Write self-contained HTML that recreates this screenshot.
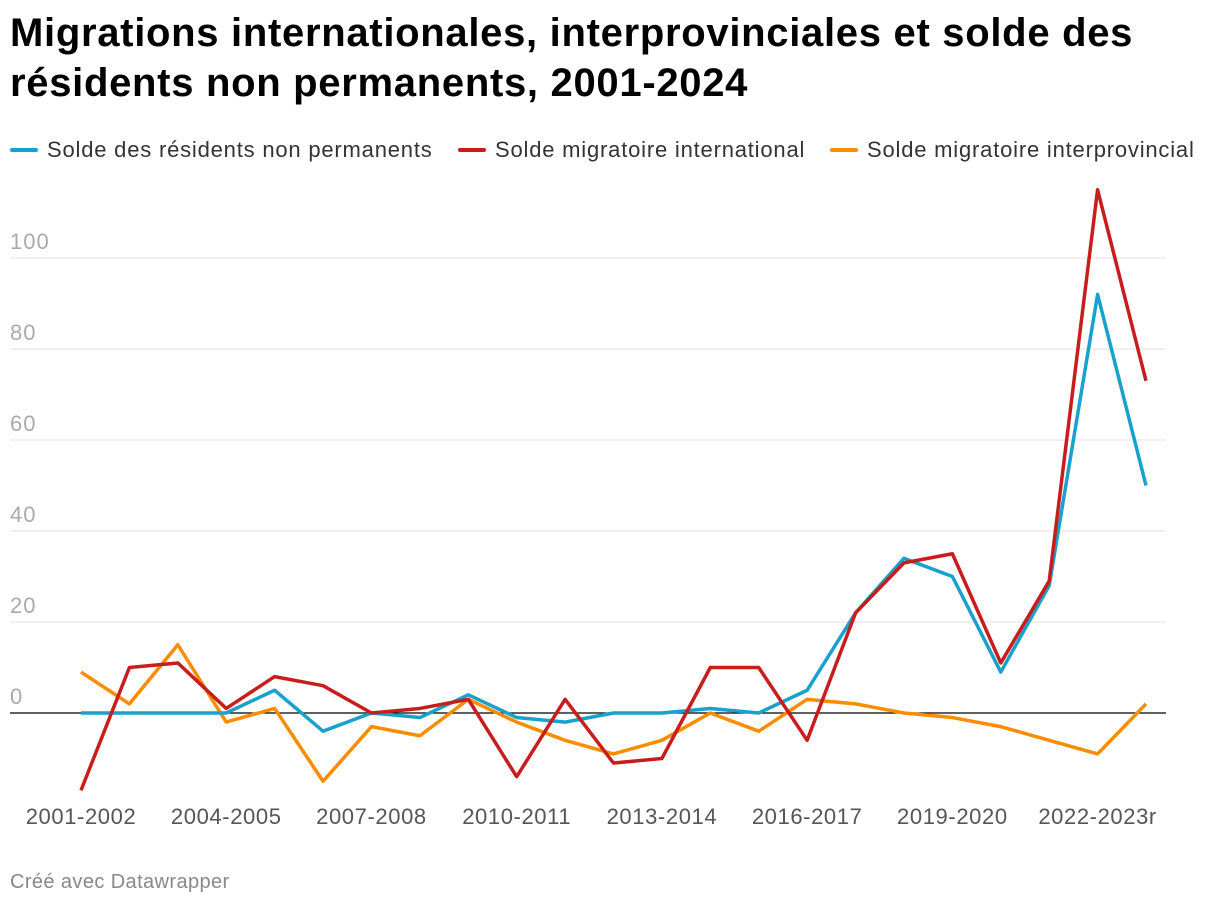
<!DOCTYPE html>
<html><head><meta charset="utf-8">
<style>
body{margin:0;background:#fff;font-family:"Liberation Sans",sans-serif;}
#wrap{position:relative;width:1220px;height:906px;}
h1{position:absolute;left:10px;top:8px;margin:0;font-size:40px;line-height:50px;font-weight:bold;color:#000;letter-spacing:0.7px}
.leg{position:absolute;top:137px;font-size:22px;color:#333;display:flex;align-items:center;letter-spacing:0.8px;white-space:nowrap}
.leg i{display:inline-block;width:28px;height:4px;margin-right:9px;border-radius:2px}
#foot{position:absolute;left:10px;top:871px;font-size:20px;color:#888;letter-spacing:0.4px}
</style></head><body>
<div id="wrap">
<h1>Migrations internationales, interprovinciales et solde des<br>résidents non permanents, 2001-2024</h1>
<div class="leg" style="left:10px"><i style="background:#18a1cd"></i>Solde des résidents non permanents</div>
<div class="leg" style="left:458px"><i style="background:#c71e1d"></i>Solde migratoire international</div>
<div class="leg" style="left:830px"><i style="background:#fa8c00"></i>Solde migratoire interprovincial</div>
<svg id="svg" width="1220" height="906" style="position:absolute;left:0;top:0"></svg>
<div id="foot">Créé avec Datawrapper</div>
</div>
<script>
const categories=["2001-2002","2002-2003","2003-2004","2004-2005","2005-2006","2006-2007","2007-2008","2008-2009","2009-2010","2010-2011","2011-2012","2012-2013","2013-2014","2014-2015","2015-2016","2016-2017","2017-2018","2018-2019","2019-2020","2020-2021","2021-2022","2022-2023r","2023-2024"];
const nprValues=[0,0,0,0,5,-4,0,-1,4,-1,-2,0,0,1,0,5,22,34,30,9,28,92,50];
const internationalValues=[-17,10,11,1,8,6,0,1,3,-14,3,-11,-10,10,10,-6,22,33,35,11,29,115,73];
const interprovincialValues=[9,2,15,-2,1,-15,-3,-5,3,-2,-6,-9,-6,0,-4,3,2,0,-1,-3,-6,-9,2];
const yTicks=[0,20,40,60,80,100];
const xLabelEvery=3;
const NS="http://www.w3.org/2000/svg";
const svg=document.getElementById('svg');
const x=i=>81+i*(1146-81)/(categories.length-1);
const y=v=>713-v*4.55;
function mk(t,a){const e=document.createElementNS(NS,t);for(const k in a)e.setAttribute(k,a[k]);svg.appendChild(e);return e;}
yTicks.forEach(t=>{
  const l=mk('line',{x1:10,x2:1166,y1:y(t),y2:y(t),stroke:t===0?'#000':'#e0e0e0','stroke-width':t===0?1.3:1});
  
  
  const tx=mk('text',{x:10,y:y(t)-9,'font-size':22,fill:'#aaa','font-family':'Liberation Sans','letter-spacing':1});
  tx.textContent=t;
  
  
});
categories.forEach((c,i)=>{
  if(i%xLabelEvery!==0)return;
  const tx=mk('text',{x:x(i),y:824,'font-size':22,fill:'#555','text-anchor':'middle','font-family':'Liberation Sans','letter-spacing':0.6});
  tx.textContent=c;
  
  
});
function line(vals,col,name){
  const p=mk('polyline',{points:vals.map((v,i)=>x(i)+','+y(v)).join(' '),fill:'none',stroke:col,'stroke-width':3.5,'stroke-linejoin':'round'});
  
  
}
line(interprovincialValues,'#fa8c00','line-interprovincial');
line(nprValues,'#18a1cd','line-npr');
line(internationalValues,'#c71e1d','line-international');
</script>
</body></html>
